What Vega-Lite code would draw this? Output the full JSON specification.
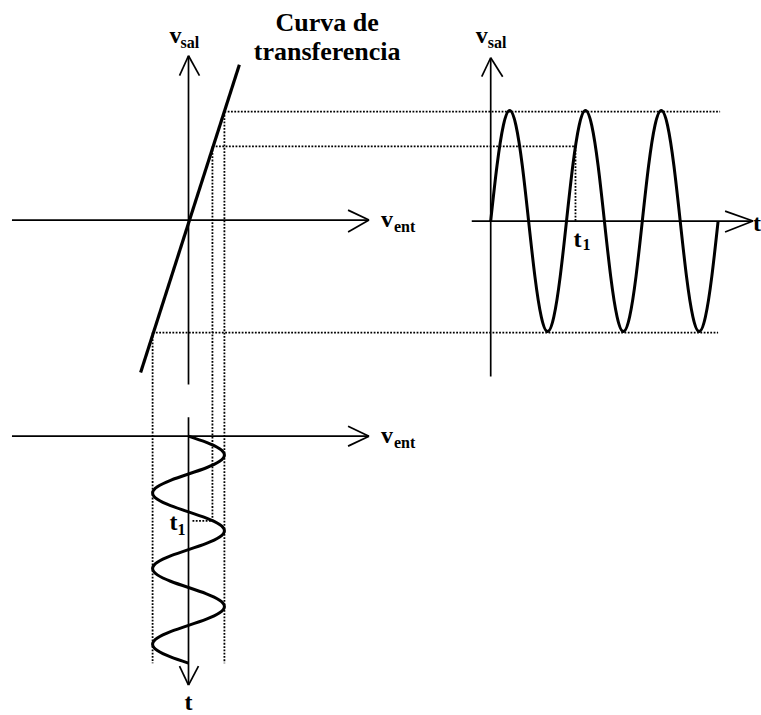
{
  "$schema": "https://vega.github.io/schema/vega-lite/v6.json",
  "width": 761,
  "height": 715,
  "autosize": {"type": "fit", "contains": "padding"},
  "padding": 0,
  "background": "white",
  "config": {"view": {"stroke": null}},
  "datasets": {
    "thin": [
      {"x1":12,"y1":221,"x2":370,"y2":221},{"x1":349,"y1":211,"x2":370,"y2":221},{"x1":349,"y1":233,"x2":370,"y2":221},
      {"x1":189,"y1":386,"x2":189,"y2":56},{"x1":180,"y1":76,"x2":189,"y2":56},{"x1":200,"y1":76,"x2":189,"y2":56},
      {"x1":12,"y1":438,"x2":370,"y2":438},{"x1":349,"y1":428,"x2":370,"y2":438},{"x1":349,"y1":448,"x2":370,"y2":438},
      {"x1":189,"y1":419,"x2":189,"y2":688},{"x1":180,"y1":669,"x2":189,"y2":688},{"x1":199,"y1":669,"x2":189,"y2":688},
      {"x1":473,"y1":222,"x2":755,"y2":222},{"x1":727,"y1":212,"x2":755,"y2":222},{"x1":727,"y1":233,"x2":755,"y2":222},
      {"x1":492,"y1":378,"x2":492,"y2":58},{"x1":483,"y1":77,"x2":492,"y2":58},{"x1":504,"y1":77,"x2":492,"y2":58}
    ],
    "thick": [{"x1":240,"y1":65,"x2":141,"y2":374}],
    "dotted": [
      {"x1":225,"y1":112,"x2":722,"y2":112},{"x1":213,"y1":147,"x2":577,"y2":147},{"x1":153,"y1":334,"x2":720,"y2":334},
      {"x1":225,"y1":112,"x2":225,"y2":666},{"x1":213,"y1":147,"x2":213,"y2":523},{"x1":153,"y1":334,"x2":153,"y2":666},
      {"x1":577,"y1":147,"x2":577,"y2":222},{"x1":193,"y1":523,"x2":213,"y2":523}
    ],
    "waves": [
      {"id":"r","o":0,"x":492,"y":222},{"id":"r","o":1,"x":498.3,"y":166.5},{"id":"r","o":2,"x":504.7,"y":125.9},{"id":"r","o":3,"x":511,"y":111},
      {"id":"r","o":4,"x":517.3,"y":125.9},{"id":"r","o":5,"x":523.7,"y":166.5},{"id":"r","o":6,"x":530,"y":222},{"id":"r","o":7,"x":536.3,"y":277.5},
      {"id":"r","o":8,"x":542.7,"y":318.1},{"id":"r","o":9,"x":549,"y":333},{"id":"r","o":10,"x":555.3,"y":318.1},{"id":"r","o":11,"x":561.7,"y":277.5},
      {"id":"r","o":12,"x":568,"y":222},{"id":"r","o":13,"x":574.3,"y":166.5},{"id":"r","o":14,"x":580.7,"y":125.9},{"id":"r","o":15,"x":587,"y":111},
      {"id":"r","o":16,"x":593.3,"y":125.9},{"id":"r","o":17,"x":599.7,"y":166.5},{"id":"r","o":18,"x":606,"y":222},{"id":"r","o":19,"x":612.3,"y":277.5},
      {"id":"r","o":20,"x":618.7,"y":318.1},{"id":"r","o":21,"x":625,"y":333},{"id":"r","o":22,"x":631.3,"y":318.1},{"id":"r","o":23,"x":637.7,"y":277.5},
      {"id":"r","o":24,"x":644,"y":222},{"id":"r","o":25,"x":650.3,"y":166.5},{"id":"r","o":26,"x":656.7,"y":125.9},{"id":"r","o":27,"x":663,"y":111},
      {"id":"r","o":28,"x":669.3,"y":125.9},{"id":"r","o":29,"x":675.7,"y":166.5},{"id":"r","o":30,"x":682,"y":222},{"id":"r","o":31,"x":688.3,"y":277.5},
      {"id":"r","o":32,"x":694.7,"y":318.1},{"id":"r","o":33,"x":701,"y":333},{"id":"r","o":34,"x":707.3,"y":318.1},{"id":"r","o":35,"x":713.7,"y":277.5},
      {"id":"r","o":36,"x":720,"y":222},
      {"id":"b","o":0,"x":189,"y":438},{"id":"b","o":1,"x":207,"y":444.3},{"id":"b","o":2,"x":220.2,"y":450.7},{"id":"b","o":3,"x":225,"y":457},
      {"id":"b","o":4,"x":220.2,"y":463.3},{"id":"b","o":5,"x":207,"y":469.7},{"id":"b","o":6,"x":189,"y":476},{"id":"b","o":7,"x":171,"y":482.3},
      {"id":"b","o":8,"x":157.8,"y":488.7},{"id":"b","o":9,"x":153,"y":495},{"id":"b","o":10,"x":157.8,"y":501.3},{"id":"b","o":11,"x":171,"y":507.7},
      {"id":"b","o":12,"x":189,"y":514},{"id":"b","o":13,"x":207,"y":520.3},{"id":"b","o":14,"x":220.2,"y":526.7},{"id":"b","o":15,"x":225,"y":533},
      {"id":"b","o":16,"x":220.2,"y":539.3},{"id":"b","o":17,"x":207,"y":545.7},{"id":"b","o":18,"x":189,"y":552},{"id":"b","o":19,"x":171,"y":558.3},
      {"id":"b","o":20,"x":157.8,"y":564.7},{"id":"b","o":21,"x":153,"y":571},{"id":"b","o":22,"x":157.8,"y":577.3},{"id":"b","o":23,"x":171,"y":583.7},
      {"id":"b","o":24,"x":189,"y":590},{"id":"b","o":25,"x":207,"y":596.3},{"id":"b","o":26,"x":220.2,"y":602.7},{"id":"b","o":27,"x":225,"y":609},
      {"id":"b","o":28,"x":220.2,"y":615.3},{"id":"b","o":29,"x":207,"y":621.7},{"id":"b","o":30,"x":189,"y":628},{"id":"b","o":31,"x":171,"y":634.3},
      {"id":"b","o":32,"x":157.8,"y":640.7},{"id":"b","o":33,"x":153,"y":647},{"id":"b","o":34,"x":157.8,"y":653.3},{"id":"b","o":35,"x":171,"y":659.7},
      {"id":"b","o":36,"x":189,"y":666}
    ],
    "mainText": [
      {"x":170,"y":43,"text":"v"},{"x":477,"y":43,"text":"v"},{"x":382,"y":228,"text":"v"},{"x":382,"y":445,"text":"v"},
      {"x":575,"y":248,"text":"t"},{"x":170,"y":532,"text":"t"},{"x":755,"y":232,"text":"t"}
    ],
    "subText": [
      {"x":181,"y":48,"text":"sal"},{"x":489,"y":48,"text":"sal"},{"x":395,"y":233,"text":"ent"},{"x":395,"y":450,"text":"ent"},
      {"x":584,"y":251,"text":"1"},{"x":178,"y":537,"text":"1"}
    ],
    "titleText": [
      {"x":328,"y":31,"text":"Curva de"},{"x":328,"y":60,"text":"transferencia"}
    ],
    "centerText": [
      {"x":189,"y":713,"text":"t"}
    ]
  },
  "layer": [
    {
      "data": {"name": "dotted"},
      "mark": {"type": "rule", "color": "black", "strokeWidth": 1.8, "strokeDash": [1.8, 1.5]},
      "encoding": {
        "x": {"field": "x1", "type": "quantitative", "scale": {"domain": [0, 761], "nice": false, "zero": false}, "axis": null},
        "y": {"field": "y1", "type": "quantitative", "scale": {"domain": [0, 715], "nice": false, "zero": false, "reverse": true}, "axis": null},
        "x2": {"field": "x2"},
        "y2": {"field": "y2"}
      }
    },
    {
      "data": {"name": "thin"},
      "mark": {"type": "rule", "color": "black", "strokeWidth": 1.7},
      "encoding": {
        "x": {"field": "x1", "type": "quantitative", "axis": null},
        "y": {"field": "y1", "type": "quantitative", "axis": null},
        "x2": {"field": "x2"},
        "y2": {"field": "y2"}
      }
    },
    {
      "data": {"name": "thick"},
      "mark": {"type": "rule", "color": "black", "strokeWidth": 3.2},
      "encoding": {
        "x": {"field": "x1", "type": "quantitative", "axis": null},
        "y": {"field": "y1", "type": "quantitative", "axis": null},
        "x2": {"field": "x2"},
        "y2": {"field": "y2"}
      }
    },
    {
      "data": {"name": "waves"},
      "mark": {"type": "line", "color": "black", "strokeWidth": 3, "interpolate": "natural"},
      "encoding": {
        "x": {"field": "x", "type": "quantitative", "axis": null},
        "y": {"field": "y", "type": "quantitative", "axis": null},
        "detail": {"field": "id"},
        "order": {"field": "o", "type": "quantitative"}
      }
    },
    {
      "data": {"name": "mainText"},
      "mark": {"type": "text", "font": "Liberation Serif", "fontWeight": "bold", "fontSize": 24, "align": "left", "baseline": "alphabetic", "color": "black"},
      "encoding": {
        "x": {"field": "x", "type": "quantitative", "axis": null},
        "y": {"field": "y", "type": "quantitative", "axis": null},
        "text": {"field": "text"}
      }
    },
    {
      "data": {"name": "subText"},
      "mark": {"type": "text", "font": "Liberation Serif", "fontWeight": "bold", "fontSize": 16, "align": "left", "baseline": "alphabetic", "color": "black"},
      "encoding": {
        "x": {"field": "x", "type": "quantitative", "axis": null},
        "y": {"field": "y", "type": "quantitative", "axis": null},
        "text": {"field": "text"}
      }
    },
    {
      "data": {"name": "titleText"},
      "mark": {"type": "text", "font": "Liberation Serif", "fontWeight": "bold", "fontSize": 26, "align": "center", "baseline": "alphabetic", "color": "black"},
      "encoding": {
        "x": {"field": "x", "type": "quantitative", "axis": null},
        "y": {"field": "y", "type": "quantitative", "axis": null},
        "text": {"field": "text"}
      }
    },
    {
      "data": {"name": "centerText"},
      "mark": {"type": "text", "font": "Liberation Serif", "fontWeight": "bold", "fontSize": 24, "align": "center", "baseline": "alphabetic", "color": "black"},
      "encoding": {
        "x": {"field": "x", "type": "quantitative", "axis": null},
        "y": {"field": "y", "type": "quantitative", "axis": null},
        "text": {"field": "text"}
      }
    }
  ]
}
